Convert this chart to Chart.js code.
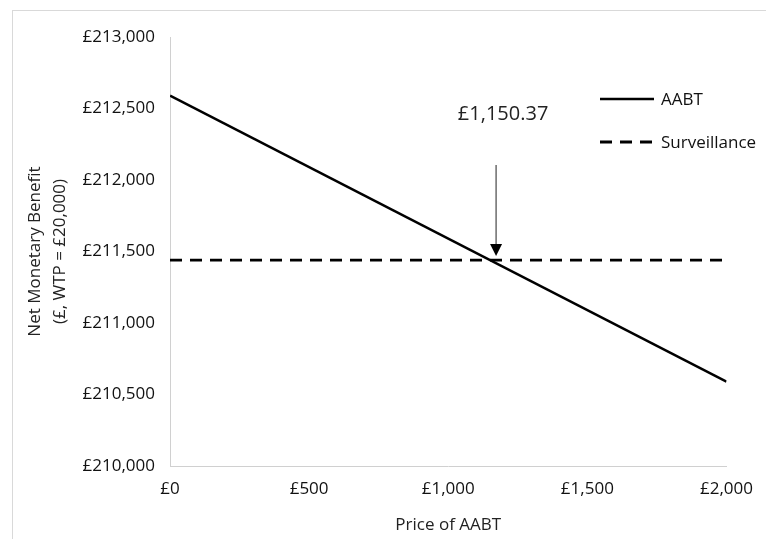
<!DOCTYPE html>
<html>
<head>
<meta charset="utf-8">
<script src="https://cdn.jsdelivr.net/npm/chart.js@4.4.1/dist/chart.umd.min.js"></script>
<style>
  html, body { margin: 0; padding: 0; background: #fff; }
  #wrap { position: relative; width: 766px; height: 539px; overflow: hidden; }
  #frame { position: absolute; left: 12px; top: 10px; width: 770px; height: 560px; border: 1px solid #d9d9d9; box-sizing: border-box; }
  canvas { position: absolute; left: 0; top: 0; }
</style>
</head>
<body>
<div id="wrap">
  <div id="frame"></div>
  <canvas id="c" width="766" height="539"></canvas>
</div>
<script>
// values
const prices = [0, 2000]
const aabt = [212590, 210590]
const surveillance = [211440, 211440]
const breakEven = 1150.37
const breakEvenLabel = '£1,150.37'
const FONT = "'Open Sans', sans-serif"

function money(v) {
    return '£' + Number(v).toLocaleString('en-GB')
}

// arrow + label and the legend inside the plot
const extras = {
    id: 'extras',
    afterDatasetsDraw(chart) {
        const ctx = chart.ctx
        const x = chart.scales.x, y = chart.scales.y
        const px = x.getPixelForValue(breakEven) + 6
        const tipY = y.getPixelForValue(surveillance[0]) - 4
        const topY = y.getPixelForValue(212105)
        ctx.save()
        ctx.strokeStyle = '#555'
        ctx.lineWidth = 1.3
        ctx.beginPath()
        ctx.moveTo(px, topY)
        ctx.lineTo(px, tipY - 10)
        ctx.stroke()
        ctx.fillStyle = '#000'
        ctx.beginPath()
        ctx.moveTo(px, tipY)
        ctx.lineTo(px - 6, tipY - 12)
        ctx.lineTo(px + 6, tipY - 12)
        ctx.closePath()
        ctx.fill()
        ctx.font = '20px ' + FONT
        ctx.fillStyle = '#222'
        ctx.textAlign = 'center'
        ctx.textBaseline = 'middle'
        ctx.fillText(breakEvenLabel, px + 7, y.getPixelForValue(212460))

        // legend
        const lx = 600, rows = [99, 142]
        ctx.font = '17px ' + FONT
        ctx.textAlign = 'left'
        chart.data.datasets.forEach((ds, i) => {
            ctx.strokeStyle = ds.borderColor
            ctx.lineWidth = ds.borderWidth
            ctx.setLineDash(ds.borderDash || [])
            ctx.beginPath()
            ctx.moveTo(lx, rows[i])
            ctx.lineTo(lx + 54, rows[i])
            ctx.stroke()
            ctx.setLineDash([])
            ctx.fillStyle = '#111'
            ctx.fillText(ds.label, lx + 61, rows[i] + 1)
        })
        ctx.restore()
    }
}

new Chart(document.getElementById('c'), {
    type: 'line',
    data: {
        datasets: [{
            label: 'AABT',
            data: prices.map((p, i) => ({x: p, y: aabt[i]})),
            borderColor: '#000',
            borderWidth: 2.6,
            pointRadius: 0,
            fill: false
        }, {
            label: 'Surveillance',
            data: prices.map((p, i) => ({x: p, y: surveillance[i]})),
            borderColor: '#000',
            borderWidth: 2.8,
            borderDash: [12, 8],
            pointRadius: 0,
            fill: false
        }]
    },
    plugins: [extras],
    options: {
        responsive: false,
        animation: false,
        layout: { padding: { left: 0, right: 37, top: 37, bottom: 0 } },
        plugins: { legend: { display: false }, tooltip: { enabled: false } },
        scales: {
            x: {
                type: 'linear',
                min: 0, max: 2000,
                afterFit(s) { s.height = 73 },
                grid: { display: false, drawTicks: false },
                border: { color: '#d0d0d0', width: 1 },
                ticks: {
                    stepSize: 500, padding: 13, color: '#111',
                    font: { family: FONT, size: 17 },
                    callback: v => money(v)
                },
                title: {
                    display: true, text: 'Price of AABT', color: '#222',
                    font: { family: FONT, size: 17 },
                    padding: { top: 2 }
                }
            },
            y: {
                min: 210000, max: 213000,
                afterFit(s) { s.width = 170 },
                grid: { display: false, drawTicks: false },
                border: { color: '#d0d0d0', width: 1 },
                ticks: {
                    stepSize: 500, padding: 15, color: '#111',
                    font: { family: FONT, size: 17 },
                    callback: v => money(v)
                },
                title: {
                    display: true,
                    text: ['Net Monetary Benefit', '(£, WTP = £20,000)'],
                    color: '#222',
                    font: { family: FONT, size: 17, lineHeight: 1.45 },
                    padding: { top: 23, bottom: 0 }
                }
            }
        }
    }
})
</script>
</body>
</html>
